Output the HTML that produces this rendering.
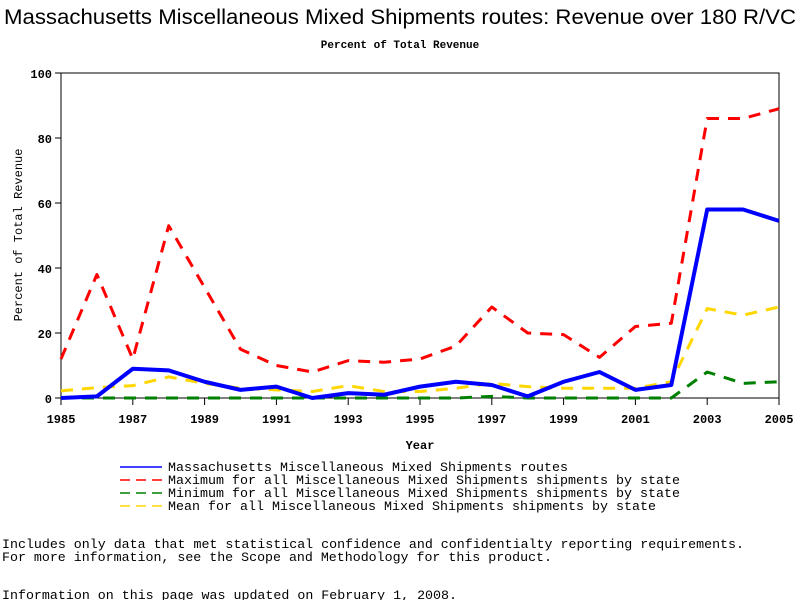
<!DOCTYPE html>
<html><head><meta charset="utf-8"><style>
body{margin:0;background:#fff;width:800px;height:600px;overflow:hidden}
text{font-family:"Liberation Mono",monospace}
</style></head><body>
<svg width="800" height="600">
<text x="4" y="24" textLength="792" lengthAdjust="spacingAndGlyphs" font-size="21" style="font-family:'Liberation Sans',sans-serif">Massachusetts Miscellaneous Mixed Shipments routes: Revenue over 180 R/VC</text>
<text x="400" y="48" text-anchor="middle" font-size="11" font-weight="bold">Percent of Total Revenue</text>
<g id="plot"></g>
<text x="420" y="449" text-anchor="middle" font-size="12" font-weight="bold">Year</text>
<text transform="translate(22,235) rotate(-90)" text-anchor="middle" font-size="12">Percent of Total Revenue</text>
<g id="legend" font-size="13"></g>
<text x="2" y="548" font-size="13" textLength="742" lengthAdjust="spacingAndGlyphs">Includes only data that met statistical confidence and confidentialty reporting requirements.</text>
<text x="2" y="561" font-size="13" textLength="550" lengthAdjust="spacingAndGlyphs">For more information, see the Scope and Methodology for this product.</text>
<text x="2" y="599" font-size="13" textLength="455" lengthAdjust="spacingAndGlyphs">Information on this page was updated on February 1, 2008.</text>
</svg>
<script>
const years=[1985,1986,1987,1988,1989,1990,1991,1992,1993,1994,1995,1996,1997,1998,1999,2000,2001,2002,2003,2004,2005];
const massVals=[0,0.5,9,8.5,5,2.5,3.5,0,1.5,1,3.5,5,4,0.5,5,8,2.5,4,58,58,54.5];
const maxVals=[12,38,12,53,34,15,10,8,11.5,11,12,16,28,20,19.5,12.5,22,23,86,86,89];
const minVals=[0,0,0,0,0,0,0,0,0,0,0,0,0.5,0,0,0,0,0,8,4.5,5];
const meanVals=[2.2,3.2,3.8,6.5,4.5,3,2.5,2,3.8,2,2,3,4.5,3.5,3,3,3,5,27.5,25.5,28];
const yTicks=[0,20,40,60,80,100];
const xTicks=[1985,1987,1989,1991,1993,1995,1997,1999,2001,2003,2005];
const legendLabels=['Massachusetts Miscellaneous Mixed Shipments routes','Maximum for all Miscellaneous Mixed Shipments shipments by state','Minimum for all Miscellaneous Mixed Shipments shipments by state','Mean for all Miscellaneous Mixed Shipments shipments by state'];
const NS="http://www.w3.org/2000/svg";
const X0=61,X1=779,Y0=398,Y1=73;
const xs=v=>X0+(v-1985)/20*(X1-X0);
const ys=v=>Y0-v/100*(Y0-Y1);
const plot=document.getElementById('plot');
function mk(t,a,p){const e=document.createElementNS(NS,t);for(const k in a)e.setAttribute(k,a[k]);(p||plot).appendChild(e);return e;}
const frame=mk('rect',{x:X0,y:Y1,width:X1-X0,height:Y0-Y1,fill:'none',stroke:'#000','stroke-width':1});


yTicks.forEach(v=>{
  const l=mk('line',{x1:X0-6,x2:X0,y1:ys(v),y2:ys(v),stroke:'#000'});
  
  
  const t=mk('text',{x:X0-9,y:ys(v)+5,'text-anchor':'end','font-size':12,'font-weight':'bold'});t.textContent=v;
  
  
});
xTicks.forEach(v=>{
  const l=mk('line',{x1:xs(v),x2:xs(v),y1:Y0,y2:Y0+7,stroke:'#000'});
  
  
  const t=mk('text',{x:xs(v),y:Y0+25,'text-anchor':'middle','font-size':12,'font-weight':'bold'});t.textContent=v;
  
  
});
const series=[
 {vals:minVals,color:'#008000',w:3,dash:'12 9',name:'min-line'},
 {vals:meanVals,color:'#FFD700',w:3,dash:'12 9',name:'mean-line'},
 {vals:maxVals,color:'#FF0000',w:3,dash:'12 9',name:'max-line'},
 {vals:massVals,color:'#0000FF',w:4,dash:'',name:'massachusetts-line'}];
series.forEach(s=>{
  const p=mk('polyline',{points:s.vals.map((v,i)=>xs(years[i])+','+ys(v)).join(' '),fill:'none',stroke:s.color,'stroke-width':s.w,'stroke-dasharray':s.dash,'stroke-linejoin':'round'});
  
  
});
const lg=document.getElementById('legend');
const legendStyles=[['#0000FF',''],['#FF0000','10 6'],['#008000','10 6'],['#FFD700','10 6']];
const legendWidths=[400,512,512,488];
legendLabels.forEach((lab,i)=>{
  const y=467+i*13;
  const l=mk('line',{x1:120,x2:162,y1:y,y2:y,stroke:legendStyles[i][0],'stroke-width':1.5,'stroke-dasharray':legendStyles[i][1]},lg);
  
  
  const t=mk('text',{x:168,y:y+4,'font-size':13,textLength:legendWidths[i],lengthAdjust:'spacingAndGlyphs'},lg);t.textContent=lab;
  
  
});
</script>
</body></html>
